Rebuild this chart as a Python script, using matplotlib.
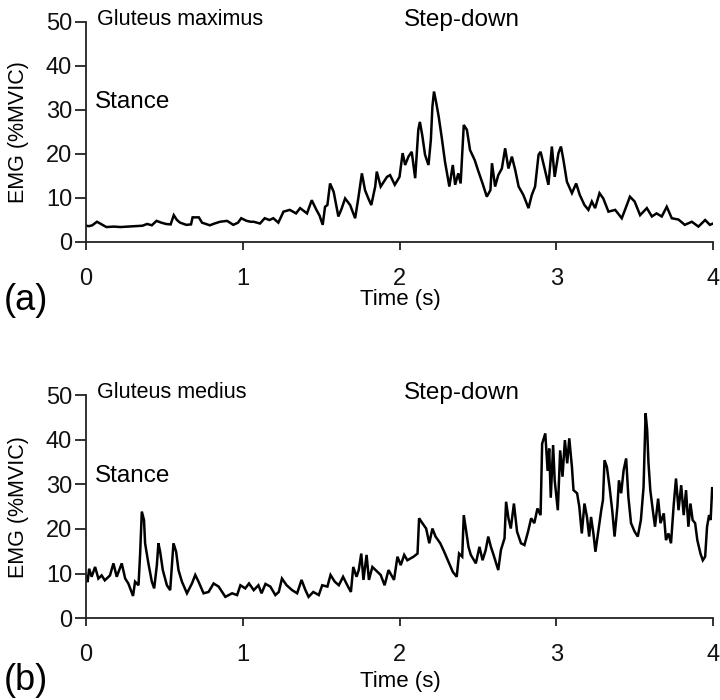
import matplotlib
matplotlib.use("Agg")
import matplotlib.pyplot as plt

plt.rcParams['font.family'] = ['Liberation Sans', 'DejaVu Sans']

# ---- Data: Gluteus maximus (panel a) ----
t_max = [0.00, 0.02, 0.04, 0.07, 0.10, 0.13, 0.18, 0.22, 0.27, 0.32, 0.36, 0.39, 0.42, 0.45,
         0.48, 0.51, 0.54, 0.56, 0.58, 0.60, 0.64, 0.67, 0.68, 0.72, 0.74, 0.79, 0.82, 0.855,
         0.90, 0.94, 0.97, 0.99, 1.025, 1.05, 1.07, 1.11, 1.14, 1.17, 1.195, 1.227, 1.26, 1.30,
         1.34, 1.366, 1.41, 1.44, 1.47, 1.49, 1.51, 1.525, 1.54, 1.557, 1.58, 1.61, 1.63, 1.653,
         1.685, 1.717, 1.737, 1.76, 1.78, 1.80, 1.82, 1.845, 1.855, 1.88, 1.92, 1.94, 1.97, 2.00,
         2.02, 2.036, 2.057, 2.078, 2.10, 2.12, 2.13, 2.145, 2.163, 2.185, 2.20, 2.21, 2.22,
         2.233, 2.25, 2.27, 2.29, 2.318, 2.34, 2.355, 2.375, 2.39, 2.41, 2.43, 2.45, 2.48, 2.50,
         2.53, 2.557, 2.58, 2.59, 2.61, 2.63, 2.653, 2.674, 2.695, 2.717, 2.738, 2.76, 2.79,
         2.823, 2.844, 2.865, 2.887, 2.90, 2.923, 2.95, 2.972, 2.99, 3.014, 3.03, 3.046, 3.068,
         3.10, 3.127, 3.15, 3.18, 3.205, 3.227, 3.248, 3.276, 3.30, 3.333, 3.376, 3.418, 3.446,
         3.47, 3.50, 3.535, 3.578, 3.61, 3.64, 3.673, 3.705, 3.737, 3.78, 3.82, 3.865, 3.907,
         3.95, 3.98, 4.00]
emg_max = [3.7, 3.6, 3.8, 4.6, 4.0, 3.4, 3.5, 3.4, 3.5, 3.6, 3.7, 4.1, 3.8, 4.8,
           4.4, 4.1, 4.0, 6.1, 5.0, 4.4, 3.9, 4.0, 5.6, 5.6, 4.4, 3.8, 4.2, 4.6,
           4.8, 3.9, 4.4, 5.4, 4.8, 4.6, 4.6, 4.2, 5.4, 5.0, 5.4, 4.4, 6.9, 7.3,
           6.5, 7.7, 6.5, 9.5, 7.3, 6.0, 3.9, 8.0, 8.4, 13.3, 11.4, 5.8, 7.5, 9.9,
           8.4, 5.4, 9.9, 15.6, 11.8, 10.0, 8.4, 12.6, 16.0, 12.6, 14.8, 15.2, 13.0, 14.8,
           20.2, 17.5, 19.4, 20.5, 14.5, 25.5, 27.3, 24.3, 19.8, 17.5, 23.2, 30.8, 34.2,
           31.9, 28.5, 23.6, 18.3, 12.6, 17.5, 13.0, 15.6, 13.3, 26.6, 25.5, 20.9, 18.6, 16.4,
           13.3, 10.3, 11.8, 17.9, 12.6, 15.2, 16.7, 21.3, 16.7, 19.4, 16.4, 12.6, 10.7,
           7.7, 10.7, 12.6, 19.8, 20.5, 17.1, 13.0, 21.7, 14.8, 20.2, 21.7, 18.6, 13.7,
           11.1, 13.3, 10.7, 8.4, 7.3, 9.2, 7.7, 11.1, 9.9, 6.9, 7.3, 5.4, 8.0,
           10.3, 9.2, 6.1, 7.7, 5.8, 6.5, 5.8, 8.0, 5.4, 5.1, 3.9, 4.6, 3.5,
           5.0, 3.9, 4.2]

# ---- Data: Gluteus medius (panel b) ----
t_med = [0.00, 0.01, 0.02, 0.036, 0.058, 0.079, 0.10, 0.12, 0.153, 0.175, 0.196, 0.228, 0.25,
         0.27, 0.30, 0.313, 0.335, 0.345, 0.356, 0.37, 0.377, 0.398, 0.42, 0.435, 0.452, 0.462,
         0.473, 0.49, 0.516, 0.537, 0.558, 0.575, 0.59, 0.612, 0.644, 0.676, 0.697, 0.718, 0.75,
         0.782, 0.814, 0.846, 0.889, 0.932, 0.964, 0.985, 1.016, 1.04, 1.07, 1.10, 1.12, 1.145,
         1.176, 1.208, 1.23, 1.25, 1.28, 1.315, 1.347, 1.375, 1.40, 1.42, 1.45, 1.485, 1.507,
         1.54, 1.56, 1.587, 1.613, 1.64, 1.667, 1.69, 1.705, 1.726, 1.74, 1.756, 1.77, 1.79,
         1.805, 1.827, 1.86, 1.88, 1.905, 1.93, 1.965, 1.987, 2.008, 2.03, 2.05, 2.09, 2.115,
         2.125, 2.146, 2.17, 2.19, 2.21, 2.23, 2.26, 2.285, 2.317, 2.34, 2.365, 2.38, 2.40, 2.41,
         2.423, 2.44, 2.455, 2.487, 2.51, 2.53, 2.55, 2.566, 2.583, 2.60, 2.63, 2.647, 2.67,
         2.68, 2.695, 2.71, 2.73, 2.75, 2.775, 2.797, 2.82, 2.84, 2.86, 2.88, 2.90, 2.91, 2.93,
         2.945, 2.955, 2.965, 2.98, 2.99, 3.01, 3.025, 3.04, 3.055, 3.07, 3.083, 3.10, 3.11,
         3.133, 3.147, 3.163, 3.18, 3.196, 3.21, 3.222, 3.237, 3.25, 3.266, 3.287, 3.298, 3.308,
         3.323, 3.34, 3.357, 3.372, 3.39, 3.40, 3.414, 3.43, 3.446, 3.46, 3.477, 3.50, 3.52,
         3.54, 3.557, 3.57, 3.58, 3.588, 3.60, 3.616, 3.63, 3.65, 3.665, 3.686, 3.70, 3.716,
         3.732, 3.75, 3.764, 3.78, 3.797, 3.813, 3.828, 3.843, 3.856, 3.87, 3.886, 3.90, 3.92,
         3.935, 3.95, 3.962, 3.975, 3.985, 3.995, 4.00]
emg_med = [9.5, 8.1, 11.1, 9.3, 11.5, 8.9, 9.6, 8.5, 9.6, 12.3, 9.3, 12.3, 8.9,
           7.8, 5.0, 8.2, 7.4, 14.2, 23.9, 22.0, 16.8, 12.3, 8.2, 6.7, 11.9, 16.8,
           14.9, 10.8, 7.4, 6.3, 16.8, 14.9, 10.8, 8.2, 5.6, 7.8, 9.7, 8.2, 5.6,
           5.9, 7.8, 7.1, 4.8, 5.6, 5.2, 7.4, 6.7, 7.8, 6.3, 7.4, 5.6, 7.7,
           7.1, 5.2, 5.9, 8.9, 7.4, 6.3, 5.6, 8.6, 6.3, 4.8, 5.9, 5.2, 7.4,
           7.1, 9.7, 8.2, 7.4, 9.3, 7.4, 5.9, 11.5, 9.3, 10.8, 14.5, 8.6, 14.2,
           8.6, 11.5, 10.4, 9.7, 7.4, 10.8, 8.6, 13.8, 11.9, 14.2, 13.0, 13.8, 14.5,
           22.4, 21.3, 20.1, 16.8, 20.1, 18.3, 16.8, 14.9, 12.3, 10.4, 9.3, 14.5, 13.8, 23.1,
           20.1, 16.0, 14.2, 12.3, 16.0, 13.0, 15.3, 18.3, 16.0, 14.2, 10.8, 15.3, 17.9,
           26.1, 22.4, 20.1, 25.7, 19.4, 16.8, 16.4, 19.4, 22.4, 21.3, 24.6, 23.1, 39.1, 41.4,
           33.0, 38.0, 27.0, 38.8, 30.9, 24.2, 37.6, 31.7, 39.9, 34.7, 40.3, 33.9, 28.7,
           28.0, 25.0, 19.0, 25.7, 22.7, 18.3, 22.7, 19.0, 14.9, 19.0, 24.2, 26.5, 35.4,
           33.9, 29.4, 24.2, 18.3, 25.0, 30.9, 28.0, 33.2, 35.8, 27.2, 21.3, 19.4, 18.3,
           22.0, 29.4, 45.9, 42.1, 35.0, 28.7, 24.2, 20.5, 26.8, 21.3, 23.5, 17.5, 19.0,
           16.8, 25.7, 31.3, 24.2, 29.8, 23.1, 28.7, 20.5, 25.7, 22.0, 21.3, 17.5, 14.5,
           13.0, 13.8, 20.5, 23.1, 22.0, 29.4, 27.2]

x_ticks = [0, 1, 2, 3, 4]
y_ticks = [0, 10, 20, 30, 40, 50]

W, H = 720, 700
fig = plt.figure(figsize=(W / 100, H / 100), dpi=100)


def fx(px):
    return px / W


def fy(py):
    return 1 - py / H


def make_panel(top_px, bot_px, t, v, muscle, letter, letter_y, time_y):
    ax = fig.add_axes([fx(86), fy(bot_px), fx(713 - 86), (bot_px - top_px) / H])
    ax.plot(t, v, color='black', lw=1.8, solid_joinstyle='miter')
    ax.set_xlim(0, 4)
    ax.set_ylim(0, 50)
    ax.set_xticks(x_ticks)
    ax.set_yticks(y_ticks)
    for s in ['top', 'right']:
        ax.spines[s].set_visible(False)
    for s in ['left', 'bottom']:
        ax.spines[s].set_linewidth(1.3)
        ax.spines[s].set_color('#222222')
    ax.tick_params(axis='x', direction='out', length=6, width=1.3, pad=12.5,
                   labelsize=17, colors='#222222', labelcolor='#111111')
    ax.tick_params(axis='y', direction='out', length=8, width=1.3, pad=2,
                   labelsize=17, colors='#222222', labelcolor='#111111')
    ax.patch.set_visible(False)
    ax.text(0.07, 50.5, muscle, fontsize=15.5, ha='left', va='center', clip_on=False)
    ax.text(2.03, 50.5, 'Step-down', fontsize=17.5, ha='left', va='center', clip_on=False)
    ax.text(0.06, 31.8, 'Stance', fontsize=17.5, ha='left', va='center', clip_on=False)
    fig.text(fx(19), fy((top_px + bot_px) / 2), 'EMG (%MVIC)', rotation=90,
             ha='center', va='center', fontsize=15.5)
    fig.text(fx(400), fy(time_y), 'Time (s)', ha='center', va='center', fontsize=16)
    fig.text(fx(4), fy(letter_y), letter, ha='left', va='center', fontsize=26)
    return ax


make_panel(22, 242, t_max, emg_max, 'Gluteus maximus', '(a)', 300, 299)
make_panel(395, 618.3, t_med, emg_med, 'Gluteus medius', '(b)', 680, 682)

fig.savefig('out.png', dpi=100)
